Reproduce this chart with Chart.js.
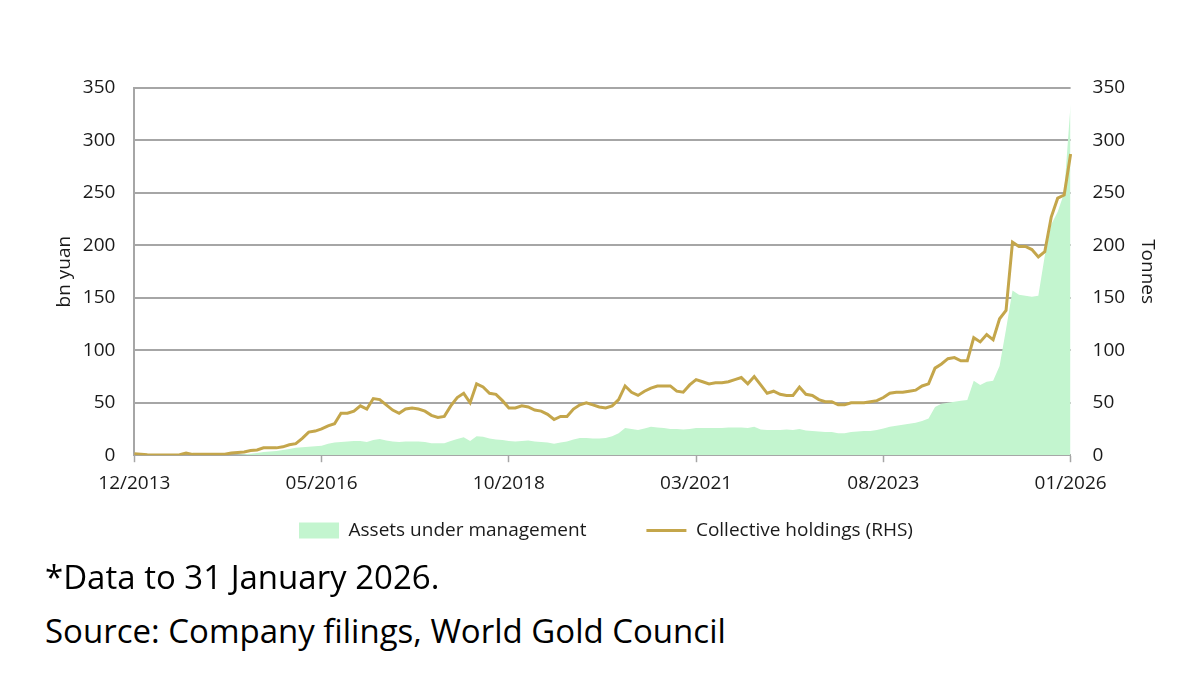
<!doctype html>
<html>
<head>
<title>Gold ETF AUM and holdings</title>
<script src="https://cdn.jsdelivr.net/npm/chart.js@4.4.1/dist/chart.umd.min.js"></script>
<style>
body { margin: 0; background: #fff; font-family: 'Open Sans', sans-serif; }
#wrap { position: absolute; left: 0; top: 0; width: 1200px; height: 600px; }
.note { position: absolute; left: 45px; font-size: 33px; line-height: 46px; color: #000; white-space: nowrap; }
</style>
</head>
<body>
<div id="wrap"><canvas id="canvas"></canvas></div>
<div class="note" style="top:554px">*Data to 31 January 2026.</div>
<div class="note" style="top:608px">Source: Company filings, World Gold Council</div>
<script>
// monthly, 12/2013 .. 01/2026
var tickLabels = ['12/2013', '05/2016', '10/2018', '03/2021', '08/2023', '01/2026'];

// assets under management, bn yuan (LHS)
var aum = [
	0, 0, 0, 0, 0, 0, 0, 0, 0, 0, 0, 0, 0, 0, 0, 0.2, 0.5, 1, 1.5, 2,
	3, 3.5, 4, 5, 6, 7, 7.5, 8, 8.5, 9, 11, 12, 12.5, 13, 13.5, 13.5, 12.5, 14.5, 15.5, 14,
	13, 12.5, 13, 13, 13, 12.5, 11.5, 11.5, 11.5, 13.5, 15.5, 17, 13.5, 18, 17.5, 16, 15, 14.5, 13.5, 13,
	13.5, 14, 13, 12.5, 12, 11, 12, 13, 15, 16.5, 16.5, 16, 16, 16.5, 18, 21, 26, 25, 24, 25.5,
	27, 26.5, 26, 25, 25, 24.5, 25, 26, 26, 26, 26, 26, 26.5, 26.5, 26.5, 26, 27, 24.5, 24, 24,
	24, 24.5, 24, 25, 23.5, 23, 22.5, 22, 22, 21, 21, 22, 22.5, 23, 23, 24, 25.5, 27, 28, 29,
	30, 31, 32.5, 35, 46, 49, 50, 51, 52, 52.5, 71, 67, 70, 71, 85, 120, 157, 153, 152, 151,
	152, 190, 220, 232, 250, 335
];

// collective holdings, tonnes (RHS)
var holdings = [
	1.5, 1, 0.5, 0.3, 0.3, 0.3, 0.3, 0.5, 2, 0.8, 0.8, 0.8, 0.8, 0.8, 1, 2, 2.5, 3, 4.5, 5,
	7, 7, 7, 8, 10, 11, 16, 22, 23, 25, 28, 30, 40, 40, 42, 47, 44, 54, 53, 48,
	43, 40, 44, 45, 44, 42, 38, 36, 37, 47, 55, 59, 50, 68, 65, 59, 58, 52, 45, 45,
	47, 46, 43, 42, 39, 34, 37, 37, 44, 48, 50, 48, 46, 45, 47, 53, 66, 60, 57, 61,
	64, 66, 66, 66, 61, 60, 67, 72, 70, 68, 69, 69, 70, 72, 74, 68, 75, 67, 59, 61,
	58, 57, 57, 65, 58, 57, 53, 51, 51, 48, 48, 50, 50, 50, 51, 52, 55, 59, 60, 60,
	61, 62, 66, 68, 83, 87, 92, 93, 90, 90, 112, 108, 115, 110, 130, 138, 203, 199, 199, 196,
	189, 194, 227, 245, 248, 287
];

var months = [];
for (var i = 0; i < aum.length; i++) {
	var m = (11 + i) % 12 + 1;
	var y = 2013 + Math.floor((11 + i) / 12);
	months.push((m < 10 ? '0' : '') + m + '/' + y);
}

var green = '#c3f5cf';
var gold = '#c4a64b';
var gridGrey = '#a6a6a6';

Chart.defaults.font.family = "'Open Sans', sans-serif";
Chart.defaults.font.size = 19;
Chart.defaults.color = '#1a1a1a';

// the wide item spacing also pads the legend vertically, so pull it back up under the axis
var legendShift = {
	id: 'legendShift',
	afterLayout: function(chart) {
		chart.legend.top -= 44;
		chart.legend.bottom -= 44;
	}
};

var ctx = document.getElementById('canvas').getContext('2d');
window.myChart = new Chart(ctx, {
	type: 'line',
	data: {
		labels: months,
		datasets: [{
			label: 'Assets under management',
			data: aum,
			yAxisID: 'y',
			fill: 'origin',
			backgroundColor: green,
			borderWidth: 0,
			pointRadius: 0,
			order: 1
		}, {
			label: 'Collective holdings (RHS)',
			data: holdings,
			yAxisID: 'y1',
			fill: false,
			borderColor: gold,
			borderWidth: 3,
			pointRadius: 0,
			order: 0
		}]
	},
	plugins: [legendShift],
	options: {
		responsive: true,
		maintainAspectRatio: false,
		animation: false,
		layout: { padding: { left: 53, right: 41, top: 88, bottom: 6 } },
		plugins: {
			tooltip: { enabled: false },
			legend: {
				position: 'bottom',
				labels: {
					usePointStyle: true,
					pointStyleWidth: 40,
					boxHeight: 16,
					padding: 60,
					color: '#1a1a1a',
					sort: function(a, b) { return a.datasetIndex - b.datasetIndex; },
					generateLabels: function(chart) {
						return chart.data.datasets.map(function(ds, i) {
							var isLine = i === 1;
							return {
								text: ds.label,
								datasetIndex: i,
								pointStyle: isLine ? 'line' : 'rect',
								fillStyle: isLine ? gold : green,
								strokeStyle: isLine ? gold : green,
								lineWidth: isLine ? 3 : 0,
								fontColor: '#1a1a1a'
							};
						});
					}
				}
			}
		},
		scales: {
			x: {
				ticks: {
					autoSkip: false,
					maxRotation: 0,
					minRotation: 0,
					padding: 10,
					callback: function(val, index) {
						return tickLabels.indexOf(months[index]) >= 0 ? months[index] : '';
					}
				},
				grid: {
					drawOnChartArea: false,
					drawTicks: true,
					tickLength: 7,
					tickWidth: 1.5,
					tickColor: function(c) {
						return tickLabels.indexOf(months[c.index]) >= 0 ? gridGrey : 'transparent';
					}
				},
				border: { color: gridGrey, width: 2 }
			},
			y: {
				position: 'left',
				min: 0,
				max: 350,
				ticks: { stepSize: 50, padding: 19 },
				grid: { color: gridGrey, lineWidth: 2, drawTicks: false },
				border: { color: gridGrey, width: 2 },
				title: { display: true, text: 'bn yuan', padding: { top: 0, bottom: -12 } }
			},
			y1: {
				position: 'right',
				min: 0,
				max: 350,
				ticks: { stepSize: 50, padding: 22 },
				grid: { drawOnChartArea: false, drawTicks: false },
				border: { display: false },
				title: { display: true, text: 'Tonnes', padding: { top: 0, bottom: -11 } }
			}
		}
	}
});
</script>
</body>
</html>
